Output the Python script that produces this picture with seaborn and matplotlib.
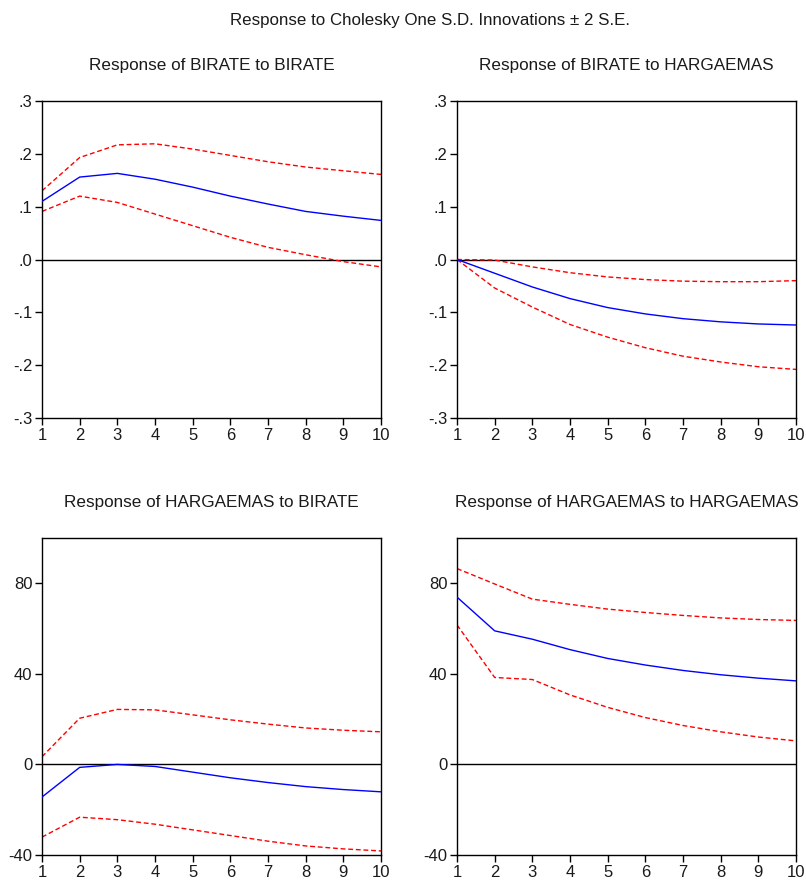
import numpy as np
import pandas as pd
import matplotlib
matplotlib.use("Agg")
import matplotlib.pyplot as plt
import seaborn as sns
from matplotlib.font_manager import fontManager

periods = list(range(1, 11))

# Impulse responses with +/- 2 S.E. bands
birate_birate = [0.110, 0.156, 0.163, 0.152, 0.137, 0.120, 0.105, 0.091, 0.082, 0.074]
birate_birate_hi = [0.130, 0.193, 0.217, 0.219, 0.209, 0.197, 0.185, 0.175, 0.168, 0.161]
birate_birate_lo = [0.091, 0.120, 0.108, 0.086, 0.064, 0.042, 0.023, 0.009, -0.004, -0.014]

birate_harga = [0.0, -0.026, -0.052, -0.074, -0.091, -0.103, -0.112, -0.118, -0.122, -0.124]
birate_harga_hi = [0.0, -0.001, -0.014, -0.025, -0.033, -0.038, -0.041, -0.042, -0.042, -0.040]
birate_harga_lo = [0.0, -0.054, -0.090, -0.123, -0.147, -0.167, -0.183, -0.194, -0.203, -0.208]

harga_birate = [-14.4, -1.3, 0.0, -0.9, -3.4, -5.9, -8.0, -9.8, -11.1, -12.1]
harga_birate_hi = [3.4, 20.4, 24.3, 24.1, 21.9, 19.7, 17.8, 16.1, 15.1, 14.4]
harga_birate_lo = [-32.1, -23.3, -24.4, -26.4, -28.9, -31.4, -33.9, -36.0, -37.3, -38.2]

harga_harga = [73.9, 59.0, 55.3, 50.7, 46.8, 43.9, 41.5, 39.6, 38.1, 36.9]
harga_harga_hi = [86.5, 79.7, 73.0, 70.7, 68.6, 67.1, 65.8, 64.7, 64.0, 63.6]
harga_harga_lo = [61.6, 38.4, 37.5, 30.7, 25.2, 20.7, 17.2, 14.4, 12.1, 10.4]

panel_titles = [
    "Response of BIRATE to BIRATE",
    "Response of BIRATE to HARGAEMAS",
    "Response of HARGAEMAS to BIRATE",
    "Response of HARGAEMAS to HARGAEMAS",
]
suptitle = "Response to Cholesky One S.D. Innovations \u00b1 2 S.E."

rate_ticks = [-0.3, -0.2, -0.1, 0.0, 0.1, 0.2, 0.3]
rate_labels = ["-.3", "-.2", "-.1", ".0", ".1", ".2", ".3"]
price_ticks = [-40, 0, 40, 80]
price_labels = ["-40", "0", "40", "80"]

sns.set_style("ticks")
names = {f.name for f in fontManager.ttflist}
narrow = "Liberation Sans Narrow" if "Liberation Sans Narrow" in names else "Liberation Sans"
plt.rcParams["font.family"] = [narrow, "DejaVu Sans"]
plt.rcParams["text.color"] = "#1a1a1a"

W, H = 806, 883
fig = plt.figure(figsize=(W / 100, H / 100), dpi=100)

def px_axes(left, top, right, bottom):
    return fig.add_axes([left / W, 1 - bottom / H, (right - left) / W, (bottom - top) / H])

panels = [
    (px_axes(42, 101, 381, 418), birate_birate, birate_birate_hi, birate_birate_lo, rate_ticks, rate_labels, (-0.3, 0.3)),
    (px_axes(457, 101, 796, 418), birate_harga, birate_harga_hi, birate_harga_lo, rate_ticks, rate_labels, (-0.3, 0.3)),
    (px_axes(42, 538, 381, 855), harga_birate, harga_birate_hi, harga_birate_lo, price_ticks, price_labels, (-40, 100)),
    (px_axes(457, 538, 796, 855), harga_harga, harga_harga_hi, harga_harga_lo, price_ticks, price_labels, (-40, 100)),
]

for (ax, mid, hi, lo, yt, yl, ylim), title in zip(panels, panel_titles):
    df = pd.DataFrame({
        "period": periods * 3,
        "value": mid + hi + lo,
        "series": ["resp"] * 10 + ["upper"] * 10 + ["lower"] * 10,
    })
    ax.axhline(0, color="black", lw=1.0, zorder=1)
    sns.lineplot(data=df[df.series == "resp"], x="period", y="value", ax=ax,
                 color="#0000ff", lw=1.0, zorder=3)
    for band in ["upper", "lower"]:
        sns.lineplot(data=df[df.series == band], x="period", y="value", ax=ax,
                     color="#ff0000", lw=1.0, dashes=False, zorder=2)
        ax.lines[-1].set_linestyle((0, (3.5, 2)))
    ax.set_xlim(1, 10)
    ax.set_ylim(*ylim)
    ax.set_xticks(periods)
    ax.set_xticklabels([str(p) for p in periods])
    ax.set_yticks(yt)
    ax.set_yticklabels(yl)
    ax.set_xlabel("")
    ax.set_ylabel("")
    for s in ax.spines.values():
        s.set_visible(True)
        s.set_linewidth(1.0)
        s.set_color("black")
    ax.tick_params(axis="both", direction="out", length=5, width=1.0,
                   labelsize=12, pad=2, colors="black", labelcolor="#1a1a1a")
    ax.set_title(title, fontsize=12.3, pad=22, color="#1a1a1a")

fig.text(430 / W, 1 - 20 / H, suptitle, ha="center", va="center", fontsize=12.2)

fig.savefig("out.png", dpi=100)
